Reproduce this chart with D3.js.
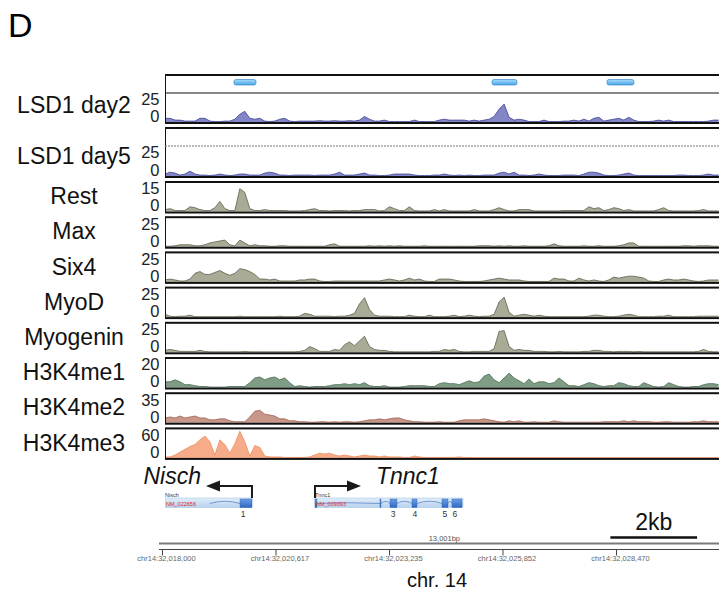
<!DOCTYPE html>
<html>
<head>
<meta charset="utf-8">
<script src="https://cdn.jsdelivr.net/npm/d3@7"></script>
<style>
  body { margin: 0; background: #fff; }
  svg { display: block; font-family: "Liberation Sans", Arial, sans-serif; }
</style>
</head>
<body>
<svg id="chart" width="719" height="593"></svg>
<script>
// bins: 115 bp each, starting at chr14:32,018,070
const binStart = 32018070, binStep = 115;

const lsd1Day2 = [3.3,3.3,1.7,1.7,0.8,0.8,0.8,3.3,3.3,0.8, 0.4,0.4,0.8,0.8,2.5,7,9.5,3.3,2.5,3.3,
  0.8,0.4,0.8,2.5,3.3,0.8,0.4,0.8,0.8,0.8, 0.8,1.2,0.8,0.8,1.2,0.8,0.8,1.2,0.8,1.7,
  5,2.5,0.8,0.8,1.7,0.4,0.4,0.4,0.4,0.4, 1.7,0.4,0.4,0.4,0.4,1.7,2.5,1.7,1.7,1.7,
  1.7,0.8,1.7,0.8,1.7,2.5,5,11.5,16,4.2, 1.7,2.5,1.7,0.4,0.4,0.4,1.7,0.4,0.4,0.4,
  0.8,0.8,1.7,0.8,2.5,0.8,3.3,4.2,0.8,1.7, 2.5,3.3,1.7,4.2,1.7,0.4,0.4,0.4,0.8,1.7,
  0.8,1.7,0.4,0.4,0.4,0.4,0.4,0.4,0.4,0.8, 1.7,1.7];
const lsd1Day5 = [1.7,3.3,2.5,0.8,1.7,4.2,1.7,0.8,0.8,0.4, 0.8,1.7,0.8,0.4,0.8,1.7,1.7,0.8,0.8,0.8,
  2.5,3.3,2.5,0.8,0.8,0.4,0.8,0.8,0.8,0.8, 0.4,0.8,0.8,0.8,1.7,3.3,0.8,0.8,0.8,1.7,
  2.5,0.8,0.8,0.4,0.4,0.8,1.7,1.7,1.7,1.7, 0.8,0.4,0.4,0.4,0.8,0.8,1.7,0.8,0.4,0.8,
  0.4,0.8,0.4,0.4,0.8,0.8,0.8,2.5,3.3,1.7, 3.3,0.8,0.8,0.4,0.8,1.7,0.8,0.4,0.4,0.4,
  0.8,0.8,0.8,0.4,1.7,3.3,3.3,2.5,0.8,0.4, 0.4,0.8,1.7,2.5,0.8,0.4,0.4,0.4,0.4,0.4,
  0.4,0.4,0.4,0.8,0.8,0.4,0.4,0.4,0.8,1.7, 0.8,0.8];
const rest = [1,1.5,0.5,0.5,0.5,2.5,2,1,0.5,0.5, 2,5.3,1.5,0.5,0.5,12,10,1.5,0.5,0.5,
  1,0.5,0.5,0.5,0.5,0.3,0.3,0.3,0.5,1, 1.5,0.5,0.5,0.3,0.5,0.5,0.5,0.3,0.5,0.5,
  1,1,1,0.3,0.5,2.5,1.5,0.5,0.5,2.5, 0.5,0.3,0.3,0.3,1,0.3,1,0.3,0.3,0.3,
  0.3,0.3,1,0.3,0.3,0.3,1,2,1,0.3, 0.3,1,1,1,0.3,0.3,0.3,0.3,0.3,0.3,
  0.5,0.5,0.5,0.5,0.5,2.5,1.5,2,0.5,1, 2,1.5,0.5,1,0.3,0.3,0.3,0.3,0.3,1,
  2,0.5,0.3,0.3,0.3,0.3,0.3,0.5,1,0.3, 0.3,0.3];
const maxSignal = [0.4,0.4,0.8,1.7,1.7,1.7,0.8,0.8,1.7,3.3, 4.2,5,5.8,1.7,0.8,5.8,3.3,0.8,1.7,0.8,
  0.8,0.4,0.4,0.8,0.8,0.4,0.4,0.4,0.4,0.4, 0.4,0.4,0.4,1.7,2.5,0.4,0.4,0.4,0.4,0.4,
  0.4,0.8,0.4,0.8,0.4,0.8,0.4,0.8,0.4,0.4, 0.4,0.4,0.8,0.4,0.4,0.4,0.4,0.4,0.4,0.4,
  0.4,0.4,0.4,0.8,0.8,0.8,0.4,0.8,0.4,0.8, 0.4,0.4,0.8,0.4,0.4,0.4,0.4,0.8,2.5,0.8,
  0.4,0.4,0.4,0.4,0.8,0.4,0.4,0.8,0.4,0.4, 0.4,0.8,1.7,3.3,3.3,0.4,0.4,0.4,0.4,0.4,
  0.4,0.4,0.4,0.4,0.8,0.8,0.4,0.8,0.8,0.8, 0.4,0.4];
const six4 = [1.7,2.5,1.7,0.8,0.8,2.5,7.5,9.1,6.6,6.6, 8.3,10,7.5,5.8,7.5,11.6,10.8,9.1,6.6,2.5,
  2.5,1.7,2.5,0.8,0.8,0.8,0.8,1.7,1.7,2.5, 2.5,0.8,0.4,0.4,0.8,0.8,0.8,0.8,0.8,0.8,
  0.8,0.8,0.8,0.8,1.7,2.5,1.7,0.8,1.7,3.3, 1.7,2.5,0.8,0.4,0.4,2.5,2.5,2.5,1.7,0.8,
  0.4,0.4,0.4,0.4,0.8,1.7,2.5,3.3,2.5,1.7, 1.7,1.7,0.8,0.4,0.4,0.4,0.4,0.4,3.3,2.5,
  2.5,0.8,0.8,3.3,1.7,0.8,1.7,0.8,0.4,1.7, 4.2,3.3,4.2,5,5,4.2,3.3,0.8,0.4,0.4,
  1.7,2.5,1.7,1.7,2.5,1.7,0.8,0.4,0.8,1.7, 1.7,1.7];
const myoD = [2.5,0.8,0.4,0.8,0.8,1.7,0.4,0.4,0.4,0.4, 0.4,0.4,0.4,0.4,0.4,0.8,0.4,0.4,0.4,0.4,
  0.4,0.4,0.4,0.8,0.4,0.4,0.4,0.8,3.3,2.5, 0.8,0.8,0.8,0.8,0.4,0.8,0.8,1.7,3.3,11.6,
  17,6.6,1.7,0.8,0.8,0.8,0.4,0.4,0.4,1.7, 0.8,0.4,0.4,1.7,0.4,0.4,0.4,0.8,1.7,0.4,
  0.8,1.7,0.8,0.4,0.8,0.8,2.5,13.3,17.5,4.2, 0.8,1.7,2.5,1.7,0.8,1.7,0.8,0.4,0.4,0.4,
  0.4,0.4,0.4,0.4,0.4,0.8,1.7,1.7,0.8,0.4, 0.4,0.8,1.7,2.5,1.7,0.4,0.4,0.4,0.4,0.8,
  0.8,1.7,0.4,0.4,0.4,0.4,0.4,0.8,0.8,0.8, 0.8,0.8];
const myogenin = [1.7,2.5,1.7,0.8,0.8,0.8,0.8,1.7,0.8,0.4, 0.4,0.4,0.4,0.4,0.4,0.4,0.8,0.4,0.4,0.4,
  0.4,0.4,0.4,0.4,0.4,0.4,0.4,0.8,1.7,5, 3.3,0.8,0.8,0.8,2.5,1.7,6.6,9.1,5.8,10,
  14.1,5,2.5,1.7,1.7,0.8,0.4,0.4,0.4,0.4, 0.4,0.4,0.4,0.4,0.8,0.8,2.5,1.7,2.5,0.8,
  0.4,0.4,0.8,0.8,0.8,0.8,3.3,18.3,19,5, 1.7,2.5,1.7,1.7,0.8,0.8,0.8,0.4,0.4,0.8,
  0.4,0.4,0.4,0.4,0.8,0.8,1.7,1.7,0.8,0.8, 0.4,0.8,0.8,0.8,0.4,0.8,0.4,0.4,0.4,0.4,
  0.4,0.4,0.4,0.4,0.4,0.4,0.4,0.8,2.5,0.8, 0.4,0.4];
const h3k4me1 = [4,4,5.4,4,2,2,1.3,0.7,0.7,0.3, 0.3,0.3,0.3,0.7,0.7,0.7,0.7,3.4,6.7,7.4,
  5.4,6.7,7.4,5.4,6.7,3.4,0.7,1.3,0.7,0.3, 0.7,0.7,0.7,1.3,2,2,2.7,2,2.7,2,
  3.4,1.3,0.7,0.7,1.3,0.3,0.3,0.3,0.7,1.3, 1.3,1.3,1.3,0.7,0.7,2.7,3.4,2.7,2.7,2,
  3.4,4.7,3.4,4,8,9.4,5.4,3.4,6.7,10, 6.7,4.7,2.7,6,2.7,4,4,2.7,3.4,6.7,
  4,1.3,1.3,0.7,2,3.4,2.7,1.3,0.7,1.3, 1.3,3.4,2.7,1.3,0.7,0.7,3.4,2,0.7,0.3,
  0.7,3.4,2,0.7,0.3,0.3,0.7,0.7,2,2.7, 2.7,2];
const h3k4me2 = [5.8,7,5.8,8.2,5.8,7,8.2,5.8,5.8,3.5, 3.5,4.7,4.7,2.3,1.2,1.2,1.2,7,14,15.2,
  10.5,9.4,8.2,4.7,4.7,2.3,2.3,1.2,1.2,0.6, 0.6,1.2,1.2,0.6,1.2,0.6,1.2,1.2,0.6,1.2,
  2.3,3.5,3.5,4.7,3.5,4.7,5.8,5.8,3.5,2.3, 1.2,1.2,0.6,0.6,0.6,1.2,0.6,0.6,0.6,2.3,
  3.5,3.5,3.5,3.5,4.7,3.5,2.3,1.2,0.6,2.3, 1.2,2.3,0.6,0.6,1.2,0.6,0.6,0.6,2.3,1.2,
  0.6,0.6,0.6,0.6,0.6,0.6,0.6,0.6,1.2,1.2, 1.2,1.2,2.3,1.2,2.3,1.2,1.2,1.2,0.6,0.6,
  1.2,1.2,0.6,0.6,0.6,0.6,1.2,1.2,2.3,1.2, 1.2,1.2];
const h3k4me3 = [2,2,6,12,18,24,28,38,46,34, 6,38,28,10,30,56,34,4,26,22,
  4,2,2,2,1,1,1,1,1,2, 6,10,8,10,6,4,6,4,2,4,
  6,4,4,2,4,2,2,2,1,1, 4,2,1,1,1,1,1,1,1,2,
  1,1,0.5,0.5,0.5,0.5,0.5,0.5,0.5,0.5, 0.5,0.5,0.5,0.5,0.5,0.5,0.5,0.5,0.5,0.5,
  0.5,0.5,0.5,0.5,0.5,0.5,0.5,0.5,0.5,0.5, 0.5,0.5,0.5,0.5,0.5,0.5,0.5,0.5,0.5,0.5,
  0.5,0.5,0.5,0.5,0.5,0.5,0.5,0.5,0.5,0.5, 0.5,0.5];

const trackNames = ['LSD1 day2','LSD1 day5','Rest','Max','Six4','MyoD','Myogenin','H3K4me1','H3K4me2','H3K4me3'];
const trackData = [lsd1Day2, lsd1Day5, rest, maxSignal, six4, myoD, myogenin, h3k4me1, h3k4me2, h3k4me3];
const trackMax = [25,25,15,25,25,25,25,20,35,60];

// LSD1 peak regions (bp)
const peakRegions = [[32019660,32020168],[32025610,32026186],[32028262,32028884]];

// gene models (bp)
const nischExons = [[32019799,32020075]];
const tnnc1Exons = [[32021528,32021574],[32023027,32023050],[32023258,32023419],[32023765,32023880],[32024457,32024595],[32024687,32024918]];
const tnnc1ExonNumbers = ['','','3','4','5','6'];

const axisTicks = [32018000, 32020617, 32023235, 32025852, 32028470];
const regionLength = '13,001bp';

const svg = d3.select('#chart');
const x = d3.scaleLinear().domain([32018000, 32028470]).range([162, 616]);
const left = 165, right = 730;

// track colours
const fills = ['#8285c6','#8285c6','#a9ab96','#a9ab96','#a9ab96','#a9ab96','#a9ab96','#7f9d85','#c8978a','#f6ac88'];
const strokes = ['#40448f','#40448f','#5d604c','#5d604c','#5d604c','#5d604c','#5d604c','#4a6a51','#a0604f','#ee8a5c'];

svg.append('defs').append('clipPath').attr('id', 'trackclip')
  .append('rect').attr('x', left).attr('y', 0).attr('width', 719 - left).attr('height', 593);

// boxes
const boxes = trackNames.map((n, i) => {
  if (i === 0) return {top: 75, sig: 93, bottom: 123};
  if (i === 1) return {top: 128, sig: 146, bottom: 177};
  const t = 182 + (i - 2) * 35.2;
  return {top: t, sig: t, bottom: t + 30.5};
});

svg.append('text').attr('x', 8).attr('y', 37).attr('font-size', 34).text('D');

trackNames.forEach((name, i) => {
  const b = boxes[i];
  const y = d3.scaleLinear().domain([0, trackMax[i]]).range([b.bottom - 1, b.sig + 1]);
  const pts = trackData[i].map((v, k) => [binStart + k * binStep, v]);
  const g = svg.append('g').attr('clip-path', 'url(#trackclip)');

  g.append('path')
    .datum(pts)
    .attr('fill', fills[i])
    .attr('d', d3.area().x(d => x(d[0])).y0(b.bottom - 1).y1(d => y(d[1])));
  g.append('path')
    .datum(pts)
    .attr('fill', 'none')
    .attr('stroke', strokes[i])
    .attr('stroke-width', 0.8)
    .attr('d', d3.line().x(d => x(d[0])).y(d => y(d[1])));

  g.append('rect')
    .attr('x', left).attr('y', b.top)
    .attr('width', right - left).attr('height', b.bottom - b.top)
    .attr('fill', 'none').attr('stroke', '#111').attr('stroke-width', 2);

  if (b.sig !== b.top) {
    g.append('line')
      .attr('x1', left).attr('x2', right).attr('y1', b.sig).attr('y2', b.sig)
      .attr('stroke', i === 0 ? '#111' : '#777')
      .attr('stroke-width', i === 0 ? 1.2 : 1)
      .attr('stroke-dasharray', i === 0 ? null : '2,1');
  }

  // scale labels
  svg.append('text')
    .attr('x', 159.5).attr('y', b.sig + 12.3)
    .attr('text-anchor', 'end').attr('font-size', 16.5).attr('fill', '#222')
    .text(trackMax[i]);
  svg.append('text')
    .attr('x', 159.5).attr('y', b.bottom - 1.2)
    .attr('text-anchor', 'end').attr('font-size', 16.5).attr('fill', '#222')
    .text('0');

  let ly = (b.sig + b.bottom) / 2 + 7;
  if (i === 0) ly = 113;
  if (i === 1) ly = 163.5;
  svg.append('text')
    .attr('x', 74).attr('y', ly)
    .attr('text-anchor', 'middle').attr('font-size', 23).attr('fill', '#111')
    .text(name);
});

// peak bars in the LSD1 day2 header
const grad = svg.select('defs').append('linearGradient').attr('id', 'peakgrad')
  .attr('x1', 0).attr('x2', 0).attr('y1', 0).attr('y2', 1);
grad.append('stop').attr('offset', 0).attr('stop-color', '#a5dcfa');
grad.append('stop').attr('offset', 1).attr('stop-color', '#4aa6e6');
svg.append('g').attr('clip-path', 'url(#trackclip)')
  .selectAll('rect').data(peakRegions).join('rect')
  .attr('x', d => x(d[0])).attr('width', d => x(d[1]) - x(d[0]))
  .attr('y', 79.5).attr('height', 5.5).attr('rx', 2)
  .attr('fill', 'url(#peakgrad)').attr('stroke', '#3b8ad3').attr('stroke-width', 0.7);

// gene models
const gbg = svg.select('defs').append('linearGradient').attr('id', 'genegrad')
  .attr('x1', 0).attr('x2', 0).attr('y1', 0).attr('y2', 1);
gbg.append('stop').attr('offset', 0).attr('stop-color', '#e2eef9');
gbg.append('stop').attr('offset', 1).attr('stop-color', '#b6d2ec');
const exg = svg.select('defs').append('linearGradient').attr('id', 'exongrad')
  .attr('x1', 0).attr('x2', 0).attr('y1', 0).attr('y2', 1);
exg.append('stop').attr('offset', 0).attr('stop-color', '#6a9fe4');
exg.append('stop').attr('offset', 1).attr('stop-color', '#2f68c4');

const genes = [
  {name: 'Nisch', acc: 'NM_022656', strand: -1, start: 32017900, end: 32020075, exons: nischExons, nums: ['1']},
  {name: 'Tnnc1', acc: 'NM_009393', strand: 1, start: 32021528, end: 32024941, exons: tnnc1Exons, nums: tnnc1ExonNumbers}
];
const geneG = svg.append('g').attr('clip-path', 'url(#trackclip)');
genes.forEach(gene => {
  const gx0 = Math.max(x(gene.start), left), gx1 = x(gene.end);
  geneG.append('rect').attr('x', gx0).attr('y', 498).attr('width', gx1 - gx0).attr('height', 9.5)
    .attr('fill', 'url(#genegrad)').attr('stroke', '#a9c9e8').attr('stroke-width', 0.6);
  // introns
  const ex = gene.exons;
  let prevEnd = gene.strand < 0 ? gene.start + 1200 : ex[0][1];
  const from = gene.strand < 0 ? 0 : 1;
  for (let k = from; k < ex.length; k++) {
    const a = x(prevEnd), c = x(ex[k][0]);
    const lift = (c - a) > 40 ? 1 : 3;
    geneG.append('path')
      .attr('d', `M${a},503.5 Q${(a + c) / 2},${503.5 - lift * 1.5} ${c},503.5`)
      .attr('fill', 'none').attr('stroke', '#4d78c4').attr('stroke-width', 0.7);
    prevEnd = ex[k][1];
  }
  ex.forEach((e, k) => {
    geneG.append('rect').attr('x', x(e[0])).attr('y', 499).attr('width', Math.max(x(e[1]) - x(e[0]), 1))
      .attr('height', 8.5).attr('fill', 'url(#exongrad)').attr('stroke', '#2d5fae').attr('stroke-width', 0.4);
    if (gene.nums[k]) {
      geneG.append('text').attr('x', x(e[0]) + 3).attr('y', 517)
        .attr('text-anchor', 'middle').attr('font-size', 8.5).attr('fill', '#333')
        .text(gene.nums[k]);
    }
  });
  geneG.append('text').attr('x', gx0).attr('y', 496.5).attr('font-size', 5.5).attr('fill', '#333').text(gene.name);
  geneG.append('text').attr('x', gx0 + 1).attr('y', 505.5).attr('font-size', 5.5).attr('fill', '#e3262c').text(gene.acc);

  // TSS arrow
  const tss = gene.strand < 0 ? x(gene.end) : x(gene.start);
  const tip = tss + gene.strand * 46;
  const head = tip - gene.strand * 14;
  svg.append('path')
    .attr('d', `M${tss},498 V486 H${head}`)
    .attr('fill', 'none').attr('stroke', '#1a1a1a').attr('stroke-width', 2);
  svg.append('path')
    .attr('d', `M${tip},486 L${head},480.5 L${head},491.5 Z`)
    .attr('fill', '#1a1a1a');
  svg.append('text')
    .attr('x', gene.strand < 0 ? tip - 5 : tip + 15).attr('y', 484)
    .attr('text-anchor', gene.strand < 0 ? 'end' : 'start')
    .attr('font-size', 23).attr('font-style', 'italic').attr('fill', '#111')
    .text(gene.name);
});

// coordinate axis
svg.append('line').attr('x1', x(32017930)).attr('x2', 719).attr('y1', 543.5).attr('y2', 543.5)
  .attr('stroke', '#7a7a7a').attr('stroke-width', 2.2);
svg.append('text').attr('x', 460).attr('y', 540.5).attr('text-anchor', 'end')
  .attr('font-size', 7.5).attr('fill', '#555').text(regionLength);

const axisG = svg.append('g').attr('transform', 'translate(0,549.5)')
  .call(d3.axisBottom(x).tickValues(axisTicks).tickSize(6).tickSizeOuter(0)
    .tickFormat(d => 'chr14:' + d3.format(',')(d)));
axisG.select('.domain').attr('d', `M${x(32017930)},0H719`).attr('stroke', '#444');
axisG.selectAll('.tick line').attr('stroke', '#444');
axisG.selectAll('.tick text').attr('font-size', 7.5).attr('fill', '#666').attr('dy', '0.3em').attr('dx', 4)
  .attr('font-family', '"Liberation Sans", Arial, sans-serif');

// 2kb scale bar
const barEnd = 32030340;
svg.append('line').attr('x1', x(barEnd - 2000)).attr('x2', x(barEnd)).attr('y1', 537.5).attr('y2', 537.5)
  .attr('stroke', '#111').attr('stroke-width', 2.5);
svg.append('text').attr('x', (x(barEnd - 2000) + x(barEnd)) / 2).attr('y', 530)
  .attr('text-anchor', 'middle').attr('font-size', 23).attr('fill', '#111').text('2kb');

svg.append('text').attr('x', 437).attr('y', 587).attr('text-anchor', 'middle')
  .attr('font-size', 20).attr('fill', '#111').text('chr. 14');
</script>
</body>
</html>
